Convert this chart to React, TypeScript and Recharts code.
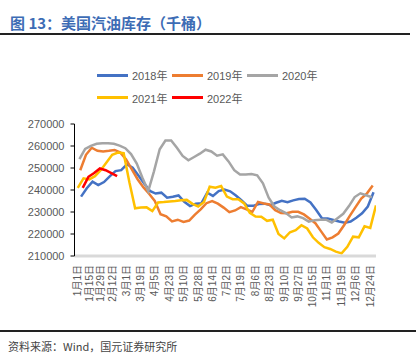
import { Legend, Line, LineChart, XAxis, YAxis } from 'recharts'

// weekly US gasoline stocks, thousand barrels
const tickDays = [0, 14, 28, 42, 59, 77, 94, 112, 129, 147, 164, 182, 199, 217, 234, 252, 269, 287, 304, 322, 339, 357]
const tickLabels = [
  '1月1日', '1月15日', '1月29日', '2月12日', '3月1日', '3月19日', '4月5日', '4月23日',
  '5月10日', '5月28日', '6月14日', '7月2日', '7月19日', '8月6日', '8月23日', '9月10日',
  '9月27日', '10月15日', '11月1日', '11月19日', '12月6日', '12月24日',
]
const yTicks = [210000, 220000, 230000, 240000, 250000, 260000, 270000]

const s2018 = [
  237000, 240800, 243800, 242200, 243600, 246200, 248600, 249000, 251700, 250100,
  246600, 243000, 239600, 238400, 238800, 236500, 236900, 237500, 234600, 232700,
  233800, 234000, 238800, 237300, 239500, 240200, 239400, 237500, 235200, 232800,
  232800, 233600, 233800, 233100, 234200, 235100, 234500, 235300, 235900, 236000,
  234300, 230900, 227200, 227100, 226400, 225700, 225100, 225700, 227400, 229400,
  232500, 239000,
]
const s2019 = [
  249000, 256000, 259200, 257800, 257500, 257800, 258200, 257000, 253900, 249400,
  244900, 241300, 238300, 235000, 229000, 228000, 225700, 226500, 225500, 226100,
  228800, 231200, 234000, 235000, 233800, 232000, 229900, 230700, 232200, 231200,
  230000, 234600, 233900, 233400, 230800, 229500, 229400, 230100, 230100, 228900,
  226900, 224900, 221200, 217500, 218500, 220200, 224000, 228200, 232200, 236100,
  238500, 242000,
]
const s2020 = [
  254000, 258700, 260100, 261000, 261200, 261200, 261000, 260200, 259000, 256300,
  252000, 245500, 239500, 248500, 258500, 262500, 262500, 259200, 255500, 253500,
  255000, 256500, 258300, 257500, 255600, 256200, 253000, 249000, 247000, 247000,
  247300, 246700, 243000, 236500, 232500, 230800, 229500, 227500, 228000, 227200,
  225600, 226300, 226500, 226500, 225200, 227200, 229200, 232700, 236800, 238500,
  237600, 236700,
]
const s2021 = [
  241000, 245300, 244800, 246300, 249000, 252500, 256000, 257000, 256700, 243500,
  231700, 232000, 232100, 230400, 234300, 234500, 234800, 235000, 235300, 235500,
  233700, 232500, 234500, 241500, 241000, 241800, 237000, 235800, 235800, 233900,
  229600, 227900, 227800, 226000, 226500, 220000, 218000, 220800, 221700, 224000,
  222500, 218500, 216000, 214000, 213200, 212000, 211200, 214200, 218800, 218500,
  223500, 222800, 233000,
]
const s2022 = [241000, 246000, 247700, 249800, 249000, 247700, 246300]

// first weekly reading of each year, as day of year
const SERIES = [
  { name: '2018年', start: 4, values: s2018, color: '#4472C4' },
  { name: '2019年', start: 3, values: s2019, color: '#ED7D31' },
  { name: '2020年', start: 2, values: s2020, color: '#A5A5A5' },
  { name: '2021年', start: 0, values: s2021, color: '#FFC000' },
  { name: '2022年', start: 6, values: s2022, color: '#FF0000' },
]

const FONT = '"Liberation Sans", Arial, "Noto Sans CJK SC", sans-serif'

function toPoints(values: number[], start: number) {
  return values.map((v, i) => ({ day: start + i * 7, v }))
}

function DateTick({ x, y, payload }: any) {
  const label = tickLabels[tickDays.indexOf(payload.value)] ?? ''
  return (
    <text
      x={x}
      y={y}
      transform={`rotate(-90 ${x} ${y})`}
      textAnchor="end"
      dominantBaseline="central"
      fontSize={10}
      fontFamily={FONT}
      fill="#595959"
    >
      {label}
    </text>
  )
}

function LegendBox({ payload }: any) {
  return (
    <div style={{ display: 'flex', flexWrap: 'wrap', width: 230, fontFamily: FONT, fontSize: 11, color: '#595959' }}>
      {(payload || []).map((p: any) => (
        <div key={p.value} style={{ width: 75, height: 22.5, display: 'flex', alignItems: 'center' }}>
          <span style={{ width: 31, height: 3, background: p.color, marginRight: 4 }} />
          <span>{p.value}</span>
        </div>
      ))}
    </div>
  )
}

export default function App() {
  return (
    <div style={{ position: 'absolute', left: 0, top: 0, width: 416, height: 364, background: '#fff', fontFamily: FONT }}>
      <div
        style={{
          position: 'absolute', left: 10, top: 13, fontSize: 15, fontWeight: 'bold',
          color: '#3D6CB5', fontFamily: '"Noto Sans CJK SC", sans-serif', lineHeight: '20px',
        }}
      >
        图 13：美国汽油库存（千桶）
      </div>
      <div style={{ position: 'absolute', left: 0, top: 33, width: 410, height: 2, background: '#222' }} />

      <LineChart width={416} height={364} margin={{ top: 124, right: 40, bottom: 68, left: 14 }}>
        <XAxis
          type="number"
          dataKey="day"
          domain={[-4, 364]}
          ticks={tickDays}
          interval={0}
          tick={<DateTick />}
          tickLine={false}
          tickSize={0}
          tickMargin={9}
          height={40}
          axisLine={{ stroke: '#D9D9D9', strokeWidth: 3 }}
          allowDataOverflow
        />
        <YAxis
          domain={[210000, 270000]}
          ticks={yTicks}
          width={60.5}
          tick={{ fill: '#595959', fontSize: 11, fontFamily: FONT }}
          tickSize={4}
          tickMargin={6}
          tickLine={{ stroke: '#000' }}
          axisLine={{ stroke: '#000' }}
        />
        <Legend
          layout="vertical"
          align="center"
          verticalAlign="middle"
          content={<LegendBox />}
          wrapperStyle={{ left: 97, top: 64, width: 230 }}
        />
        {SERIES.map((s) => (
          <Line
            key={s.name}
            name={s.name}
            data={toPoints(s.values, s.start)}
            dataKey="v"
            type="linear"
            stroke={s.color}
            strokeWidth={2.5}
            dot={false}
            isAnimationActive={false}
          />
        ))}
      </LineChart>

      <div style={{ position: 'absolute', left: 0, top: 330, width: 416, height: 2, background: '#222' }} />
      <div
        style={{
          position: 'absolute', left: 8, top: 338, fontSize: 11, color: '#444',
          fontFamily: '"Noto Sans CJK SC", sans-serif', lineHeight: '16px',
        }}
      >
        资料来源：Wind，国元证券研究所
      </div>
    </div>
  )
}
